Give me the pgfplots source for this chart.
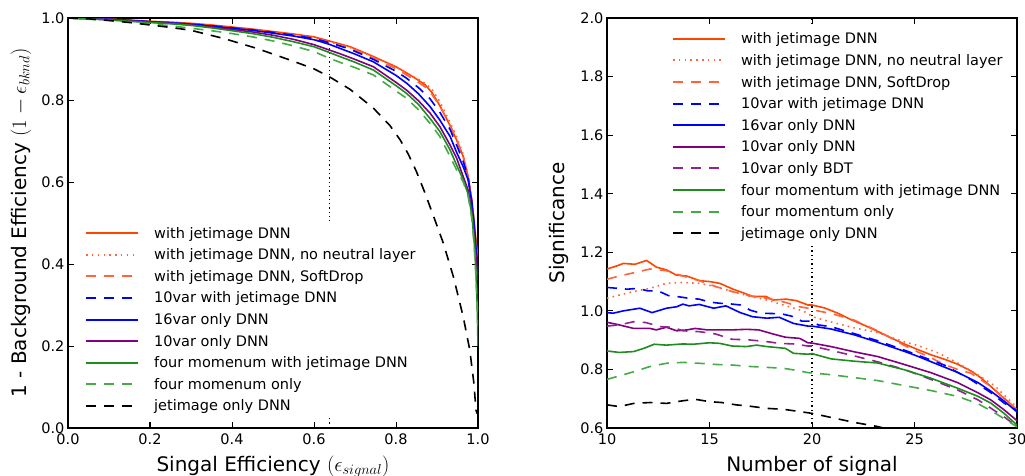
\documentclass[border=0pt]{standalone}
\usepackage{fontspec}
\setmainfont{DejaVu Sans}
\usepackage{pgfplots}
\pgfplotsset{compat=1.18}
\definecolor{cOR}{RGB}{255,69,0}
\definecolor{cORl}{RGB}{255,100,60}
\definecolor{cB}{RGB}{0,0,255}
\definecolor{cP}{RGB}{128,0,128}
\definecolor{cPl}{RGB}{145,35,145}
\definecolor{cG}{RGB}{30,140,30}
\definecolor{cGl}{RGB}{70,170,70}
\tikzset{
  mysolid/.style={line width=1.6pt, solid},
  mydash/.style={line width=1.6pt, dash pattern=on 10pt off 8pt},
  mydot/.style={line width=1.6pt, dash pattern=on 1.5pt off 4.3pt},
  vdot/.style={black, line width=1.3pt, dash pattern=on 1.3pt off 3pt},
}
\pgfplotsset{
  myaxis/.style={
    scale only axis, width=410pt, height=410pt,
    axis line style={line width=1.5pt},
    tick align=inside, major tick length=6pt,
    every tick/.style={black, line width=1pt},
    tick label style={font=\fontsize{14.5}{17}\selectfont},
    /pgf/number format/assume math mode=true,
    label style={font=\fontsize{20}{24}\selectfont},
    xticklabel style={yshift=-2pt},
    legend cell align=left,
    legend style={draw=none, fill=white, inner sep=3pt, row sep=3.6pt,
      column sep=15pt, font=\fontsize{14.5}{17}\selectfont,
      nodes={inner sep=0pt, text height=14pt, text depth=4pt}},
    legend image code/.code={\draw[##1, line width=2pt] (0pt,0pt) -- (52pt,0pt);},
  },
}
\begin{document}
\begin{tikzpicture}
\useasboundingbox (-68pt,-47pt) rectangle (957pt,428pt);
% ---------------- left: ROC ----------------
\begin{axis}[myaxis, at={(0pt,0pt)}, anchor=south west,
  xmin=0, xmax=1, ymin=0, ymax=1,
  xtick={0,0.2,0.4,0.6,0.8,1.0}, ytick={0,0.2,0.4,0.6,0.8,1.0},
  xticklabel style={/pgf/number format/.cd, fixed, fixed zerofill, precision=1},
  yticklabel style={/pgf/number format/.cd, fixed, fixed zerofill, precision=1},
  xlabel={Singal Efficiency $(\epsilon_{signal})$},
  xlabel style={at={(axis description cs:0.5,0)}, anchor=base, yshift=-43pt},
  ylabel={1 - Background Efficiency $(1-\epsilon_{bknd})$},
  ylabel style={at={(axis description cs:-0.1146,0.5)}, anchor=center},
  legend style={at={(axis description cs:0.0341,0.505)}, anchor=north west},
]
\addplot[forget plot, vdot] coordinates {(0.637,0) (0.637,1)};
% with jetimage DNN
\addplot[cOR, mysolid] coordinates {
(0,1.000) (0.05,0.999) (0.1,0.997) (0.15,0.995) (0.2,0.992) (0.25,0.990) (0.3,0.987) (0.35,0.983) (0.4,0.978) (0.45,0.973) (0.5,0.967) (0.55,0.961) (0.6,0.954) (0.637,0.944) (0.688,0.930) (0.745,0.906) (0.8,0.881) (0.826,0.866) (0.855,0.848) (0.872,0.836) (0.888,0.818) (0.907,0.786) (0.932,0.737) (0.948,0.702) (0.964,0.662) (0.976,0.613) (0.985,0.555) (0.991,0.50) (0.995,0.46) (0.998,0.43) (1.0,0.42)};
\addlegendentry{with jetimage DNN}
% no neutral layer
\addplot[cORl, mydot] coordinates {
(0,1.000) (0.05,0.999) (0.1,0.997) (0.15,0.994) (0.2,0.991) (0.25,0.988) (0.3,0.985) (0.35,0.981) (0.4,0.976) (0.45,0.971) (0.5,0.965) (0.55,0.958) (0.6,0.951) (0.637,0.942) (0.688,0.928) (0.745,0.905) (0.8,0.880) (0.826,0.866) (0.855,0.850) (0.872,0.840) (0.888,0.826) (0.907,0.796) (0.932,0.745) (0.948,0.710) (0.964,0.668) (0.976,0.615) (0.985,0.555) (0.991,0.50) (0.995,0.45) (0.998,0.40) (1.0,0.37)};
\addlegendentry{with jetimage DNN, no neutral layer}
% SoftDrop
\addplot[cORl, mydash] coordinates {
(0,1.000) (0.05,0.999) (0.1,0.997) (0.15,0.994) (0.2,0.991) (0.25,0.988) (0.3,0.985) (0.35,0.980) (0.4,0.975) (0.45,0.970) (0.5,0.964) (0.55,0.957) (0.6,0.950) (0.637,0.941) (0.688,0.926) (0.745,0.903) (0.8,0.876) (0.826,0.861) (0.855,0.843) (0.872,0.831) (0.888,0.813) (0.907,0.785) (0.932,0.738) (0.948,0.704) (0.964,0.660) (0.976,0.610) (0.985,0.55) (0.991,0.49) (0.995,0.44) (0.998,0.39) (1.0,0.36)};
\addlegendentry{with jetimage DNN, SoftDrop}
% 10var with jetimage
\addplot[cB, mydash] coordinates {
(0,1.000) (0.05,0.999) (0.1,0.997) (0.15,0.994) (0.2,0.991) (0.25,0.988) (0.3,0.985) (0.35,0.981) (0.4,0.976) (0.45,0.971) (0.5,0.965) (0.55,0.958) (0.6,0.950) (0.637,0.940) (0.688,0.924) (0.745,0.899) (0.8,0.870) (0.826,0.853) (0.855,0.830) (0.883,0.803) (0.907,0.770) (0.932,0.728) (0.948,0.690) (0.964,0.650) (0.976,0.610) (0.985,0.55) (0.991,0.49) (0.995,0.44) (0.998,0.40) (1.0,0.37)};
\addlegendentry{10var with jetimage DNN}
% 16var only DNN
\addplot[cB, mysolid] coordinates {
(0,1.000) (0.05,0.999) (0.1,0.996) (0.15,0.994) (0.2,0.991) (0.25,0.988) (0.3,0.985) (0.35,0.980) (0.4,0.975) (0.45,0.970) (0.5,0.963) (0.55,0.956) (0.6,0.947) (0.637,0.936) (0.663,0.926) (0.7,0.912) (0.745,0.893) (0.8,0.860) (0.826,0.841) (0.855,0.815) (0.883,0.784) (0.907,0.751) (0.932,0.711) (0.948,0.672) (0.964,0.637) (0.976,0.605) (0.985,0.55) (0.991,0.49) (0.995,0.44) (0.998,0.40) (1.0,0.38)};
\addlegendentry{16var only DNN}
% 10var only DNN
\addplot[cP, mysolid] coordinates {
(0,1.000) (0.05,0.998) (0.1,0.996) (0.15,0.993) (0.2,0.990) (0.25,0.987) (0.3,0.983) (0.35,0.978) (0.4,0.972) (0.45,0.966) (0.5,0.958) (0.55,0.948) (0.6,0.935) (0.637,0.922) (0.663,0.913) (0.7,0.899) (0.745,0.881) (0.8,0.843) (0.826,0.824) (0.855,0.798) (0.883,0.768) (0.907,0.735) (0.932,0.690) (0.948,0.658) (0.964,0.613) (0.976,0.58) (0.985,0.53) (0.991,0.47) (0.995,0.42) (0.998,0.38) (1.0,0.36)};
\addlegendentry{10var only DNN}
% four momenum with jetimage
\addplot[cG, mysolid] coordinates {
(0,1.000) (0.05,0.998) (0.1,0.995) (0.15,0.992) (0.2,0.989) (0.25,0.986) (0.3,0.982) (0.35,0.976) (0.4,0.969) (0.45,0.962) (0.5,0.953) (0.55,0.942) (0.6,0.930) (0.637,0.916) (0.663,0.906) (0.7,0.892) (0.745,0.873) (0.8,0.835) (0.826,0.816) (0.855,0.789) (0.883,0.755) (0.907,0.723) (0.932,0.678) (0.948,0.641) (0.964,0.605) (0.976,0.57) (0.985,0.52) (0.991,0.45) (0.995,0.38) (0.998,0.30) (1.0,0.20)};
\addlegendentry{four momenum with jetimage DNN}
% four momenum only
\addplot[cGl, mydash] coordinates {
(0,1.000) (0.05,0.997) (0.1,0.994) (0.15,0.990) (0.2,0.986) (0.25,0.981) (0.3,0.975) (0.35,0.969) (0.4,0.962) (0.45,0.954) (0.5,0.944) (0.55,0.932) (0.6,0.918) (0.637,0.902) (0.663,0.892) (0.7,0.879) (0.745,0.861) (0.8,0.822) (0.826,0.804) (0.855,0.776) (0.883,0.743) (0.907,0.711) (0.932,0.662) (0.948,0.629) (0.964,0.600) (0.976,0.565) (0.985,0.51) (0.991,0.44) (0.995,0.37) (0.998,0.30) (1.0,0.25)};
\addlegendentry{four momenum only}
% jetimage only DNN
\addplot[black, mydash] coordinates {
(0,1.000) (0.05,0.998) (0.1,0.994) (0.15,0.989) (0.2,0.983) (0.25,0.977) (0.3,0.970) (0.38,0.950) (0.46,0.926) (0.54,0.898) (0.6,0.876) (0.637,0.857) (0.688,0.826) (0.745,0.780) (0.785,0.738) (0.81,0.703) (0.83,0.668) (0.85,0.625) (0.87,0.575) (0.891,0.518) (0.915,0.452) (0.94,0.369) (0.964,0.271) (0.98,0.190) (0.99,0.109) (0.995,0.044) (0.998,0.035)};
\addlegendentry{jetimage only DNN}
\end{axis}
% ---------------- right: significance ----------------
\begin{axis}[myaxis, at={(539pt,0pt)}, anchor=south west,
  xmin=10, xmax=30, ymin=0.6, ymax=2.0,
  xtick={10,15,20,25,30}, ytick={0.6,0.8,1.0,1.2,1.4,1.6,1.8,2.0},
  yticklabel style={/pgf/number format/.cd, fixed, fixed zerofill, precision=1},
  xlabel={Number of signal},
  xlabel style={at={(axis description cs:0.5,0)}, anchor=base, yshift=-43pt},
  ylabel={Significance},
  ylabel style={at={(axis description cs:-0.1168,0.5)}, anchor=center},
  legend style={at={(axis description cs:0.1509,0.979)}, anchor=north west},
]
\addplot[forget plot, vdot] coordinates {(20,0.6) (20,2.0)};
\addplot[cOR, mysolid] coordinates {
(10,1.143) (10.5,1.154) (10.8,1.162) (11.36,1.159) (11.93,1.172) (12.42,1.149) (12.9,1.140) (13.39,1.122) (13.88,1.119) (14.53,1.103) (15.01,1.100) (15.5,1.094) (16.15,1.074) (16.63,1.062) (17.12,1.049) (17.77,1.049) (18.09,1.037) (18.74,1.040) (19.23,1.035) (19.8,1.020) (20.0,1.020) (20.61,1.010) (21.26,0.992) (21.9,0.970) (22.55,0.951) (23.2,0.930) (23.85,0.908) (24.5,0.887) (25.15,0.868) (25.8,0.850) (26.45,0.835) (27.1,0.818) (27.75,0.795) (28.23,0.772) (28.72,0.742) (29.2,0.712) (29.69,0.682) (30,0.660)};
\addlegendentry{with jetimage DNN}
\addplot[cORl, mydot] coordinates {
(10,1.043) (10.6,1.054) (11.3,1.066) (12.1,1.077) (12.9,1.094) (13.7,1.097) (14.5,1.094) (15.3,1.083) (16.1,1.066) (17.0,1.049) (17.8,1.037) (18.6,1.020) (19.4,1.003) (19.8,0.992) (20,0.980) (20.93,0.962) (22.07,0.942) (23.2,0.926) (24.5,0.894) (25.15,0.882) (26.1,0.858) (27.1,0.822) (28.0,0.785) (28.9,0.745) (29.5,0.704) (30,0.670)};
\addlegendentry{with jetimage DNN, no neutral layer}
\addplot[cORl, mydash] coordinates {
(10,1.108) (10.6,1.119) (11.3,1.130) (12.1,1.143) (12.9,1.137) (13.7,1.119) (14.5,1.103) (15.3,1.083) (16.1,1.066) (17.0,1.051) (17.8,1.043) (18.7,1.029) (19.4,1.014) (19.8,1.009) (20,1.004) (20.93,0.991) (22.07,0.968) (23.2,0.932) (24.5,0.882) (25.15,0.860) (25.8,0.840) (26.45,0.817) (27.1,0.800) (27.75,0.787) (28.72,0.742) (29.37,0.700) (30,0.662)};
\addlegendentry{with jetimage DNN, SoftDrop}
\addplot[cB, mydash] coordinates {
(10,1.080) (10.5,1.077) (11,1.074) (11.5,1.077) (12,1.068) (12.5,1.068) (13,1.052) (13.5,1.048) (14,1.043) (14.5,1.040) (15,1.030) (15.5,1.026) (16,1.024) (16.5,1.020) (17,1.002) (17.5,0.992) (18,0.991) (18.5,0.990) (19,0.982) (19.5,0.965) (20,0.965) (20.3,0.952) (20.93,0.946) (22.07,0.922) (23.2,0.898) (24.5,0.866) (25.3,0.845) (26.45,0.815) (27.75,0.765) (28.7,0.722) (29.37,0.685) (30,0.660)};
\addlegendentry{10var with jetimage DNN}
\addplot[cB, mysolid] coordinates {
(10,0.994) (10.3,0.992) (10.8,1.000) (11.6,1.009) (12.2,0.994) (12.9,1.009) (13.4,1.014) (13.7,1.023) (14.0,1.017) (14.5,1.022) (15.2,1.009) (15.8,1.017) (16.5,0.994) (17.1,0.980) (17.8,0.975) (18.4,0.978) (19.1,0.957) (19.8,0.948) (20,0.948) (20.93,0.938) (22.07,0.918) (23.2,0.893) (24.5,0.862) (25.15,0.845) (26.1,0.818) (27.1,0.790) (28.1,0.755) (28.72,0.726) (29.37,0.692) (30,0.655)};
\addlegendentry{16var only DNN}
\addplot[cP, mysolid] coordinates {
(10,0.961) (10.6,0.952) (11.3,0.940) (12.1,0.940) (12.4,0.935) (12.9,0.944) (13.4,0.932) (13.9,0.935) (14.3,0.940) (14.9,0.935) (15.5,0.935) (16.1,0.935) (16.8,0.937) (17.4,0.935) (18.1,0.921) (18.7,0.910) (19.4,0.906) (19.8,0.891) (20,0.890) (20.93,0.878) (22.07,0.860) (23.2,0.844) (24.5,0.817) (25.8,0.789) (27.1,0.755) (28.1,0.720) (28.72,0.696) (29.37,0.662) (30,0.625)};
\addlegendentry{10var only DNN}
\addplot[cPl, mydash] coordinates {
(10,0.948) (10.6,0.952) (11.3,0.963) (11.9,0.960) (12.6,0.946) (13.2,0.944) (13.7,0.932) (14.5,0.929) (15.3,0.921) (16.1,0.903) (16.9,0.901) (17.8,0.895) (18.4,0.889) (19.1,0.887) (19.8,0.880) (20,0.880) (20.93,0.865) (22.07,0.846) (23.2,0.826) (24.5,0.800) (25.8,0.766) (27.1,0.730) (28.1,0.696) (28.72,0.668) (29.37,0.638) (30,0.605)};
\addlegendentry{10var only BDT}
\addplot[cG, mysolid] coordinates {
(10,0.863) (10.6,0.858) (11.3,0.861) (11.8,0.872) (12.3,0.886) (12.9,0.883) (13.7,0.887) (14.2,0.886) (15.0,0.891) (15.5,0.889) (16.1,0.880) (16.8,0.878) (17.3,0.883) (17.8,0.878) (18.4,0.874) (18.7,0.872) (19.1,0.855) (19.8,0.852) (20,0.854) (20.93,0.836) (22.07,0.828) (23.2,0.822) (24.5,0.799) (25.8,0.770) (27.1,0.736) (28.1,0.708) (28.72,0.685) (29.37,0.650) (30,0.610)};
\addlegendentry{four momentum with jetimage DNN}
\addplot[cGl, mydash] coordinates {
(10,0.766) (10.6,0.778) (11.3,0.792) (12.1,0.810) (12.9,0.821) (13.7,0.824) (14.5,0.821) (15.3,0.817) (16.1,0.815) (17.0,0.810) (17.8,0.807) (18.6,0.804) (19.4,0.795) (19.8,0.789) (20,0.788) (20.93,0.782) (22.07,0.772) (23.2,0.762) (24.5,0.745) (25.8,0.728) (27.1,0.708) (28.1,0.683) (29.0,0.648) (30,0.604)};
\addlegendentry{four momentum only}
\addplot[black, mydash] coordinates {
(10,0.679) (10.6,0.673) (11.3,0.684) (12.1,0.687) (12.9,0.684) (13.7,0.693) (14.3,0.698) (15.0,0.690) (15.6,0.687) (16.3,0.679) (16.9,0.675) (17.8,0.667) (18.6,0.664) (19.4,0.656) (19.8,0.652) (20,0.650) (20.93,0.636) (22.07,0.619) (23.2,0.605) (23.6,0.598)};
\addlegendentry{jetimage only DNN}
\end{axis}
\end{tikzpicture}
\end{document}
